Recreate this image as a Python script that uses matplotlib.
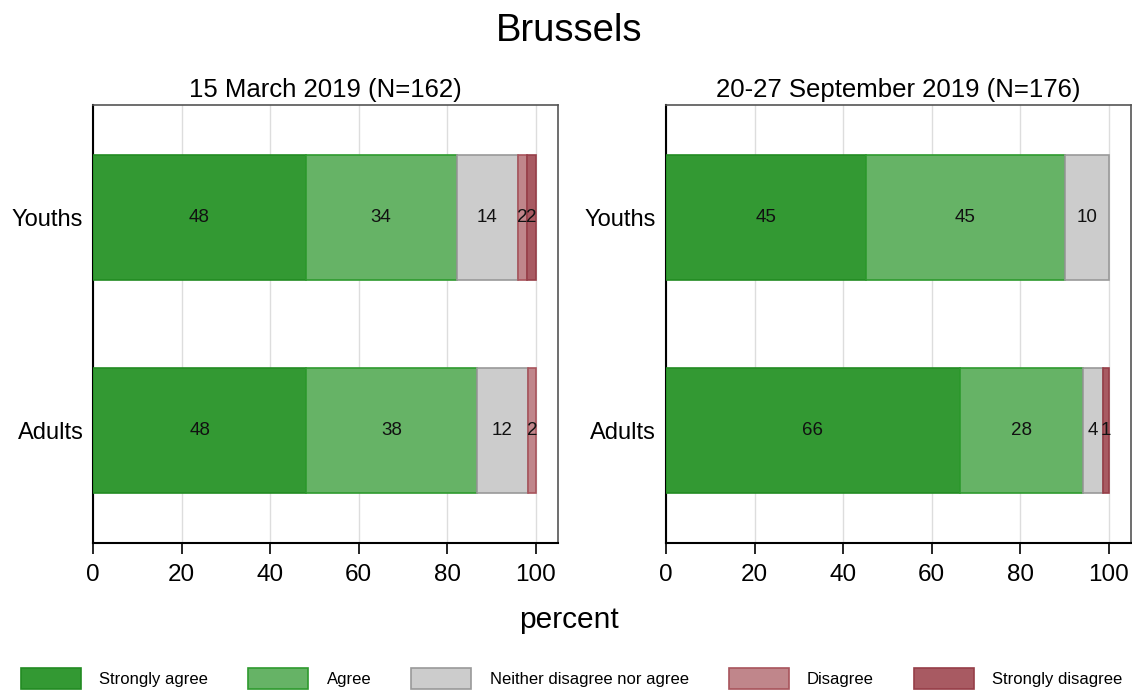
import numpy as np
import matplotlib.pyplot as plt
from matplotlib.patches import Patch

plt.rcParams['font.family'] = ['Liberation Sans', 'DejaVu Sans']

# categories and panels
groups = ['Youths', 'Adults']
panel_titles = ['15 March 2019 (N=162)', '20-27 September 2019 (N=176)']
answers = ['Strongly agree', 'Agree', 'Neither disagree nor agree',
           'Disagree', 'Strongly disagree']

# percent per answer, rows = groups (Youths, Adults)
march = [[48.0, 34.1, 13.8, 2.0, 2.1],
         [48.1, 38.5, 11.6, 1.8, 0.0]]
september = [[45.1, 44.9, 10.0, 0.0, 0.0],
             [66.3, 27.8, 4.5, 0.0, 1.4]]

fills = ['#339933', '#66b366', '#cccccc', '#c0868b', '#a85a62']
edges = ['#228b22', '#2e9a2e', '#999999', '#a8545c', '#963e48']

fig = plt.figure(figsize=(11.32, 6.93), dpi=100)
ax1 = fig.add_axes([0.0822, 0.2165, 0.4108, 0.632])
ax2 = fig.add_axes([0.5883, 0.2165, 0.4108, 0.632])

ypos = np.arange(len(groups))

for ax, data, title in [(ax1, march, panel_titles[0]), (ax2, september, panel_titles[1])]:
    data = np.array(data)
    left = np.zeros(len(groups))
    for j in range(len(answers)):
        vals = data[:, j]
        keep = vals > 0
        ax.barh(ypos[keep], vals[keep], left=left[keep], height=0.59, color=fills[j],
                edgecolor=edges[j], linewidth=1.2, zorder=3)
        for i, v in enumerate(vals):
            if v > 0:
                ax.text(left[i] + v / 2, ypos[i], f'{v:.0f}', ha='center',
                        va='center', fontsize=13.5, color='#111111', zorder=4)
        left += vals
    ax.set_xlim(0, 105)
    ax.set_ylim(1.53, -0.53)
    ax.set_xticks([0, 20, 40, 60, 80, 100])
    ax.set_yticks(ypos)
    ax.set_yticklabels(groups)
    ax.tick_params(axis='x', labelsize=17.5, length=8, width=1.2, pad=7)
    ax.tick_params(axis='y', labelsize=17, length=0, pad=7)
    ax.grid(axis='x', color='#dddddd', linewidth=1, zorder=0)
    ax.set_axisbelow(True)
    for s in ['left', 'bottom']:
        ax.spines[s].set_color('black')
        ax.spines[s].set_linewidth(1.5)
    for s in ['top', 'right']:
        ax.spines[s].set_color('#555555')
        ax.spines[s].set_linewidth(1.2)
    ax.set_title(title, fontsize=18.5, pad=6)

fig.text(0.503, 0.955, 'Brussels', ha='center', va='center', fontsize=27.5)
fig.text(0.503, 0.105, 'percent', ha='center', va='center', fontsize=21.5)

handles = [Patch(facecolor=fills[j], edgecolor=edges[j], linewidth=1.2) for j in range(len(answers))]
fig.legend(handles, answers, ncol=5, loc='center', bbox_to_anchor=(0.505, 0.021),
           frameon=False, fontsize=12, handlelength=3.6, handleheight=1.6,
           handletextpad=1.1, columnspacing=2.4)

fig.savefig('out.png', dpi=100)
